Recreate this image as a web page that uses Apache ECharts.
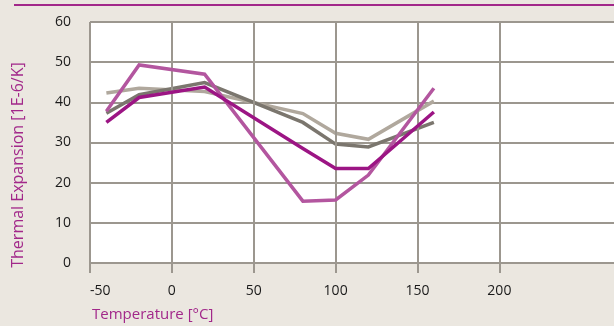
<!DOCTYPE html>
<html>
<head>
<meta charset="utf-8">
<script src="https://cdn.jsdelivr.net/npm/echarts@6/dist/echarts.min.js"></script>
<style>
  html, body { margin: 0; padding: 0; background: #ebe7e0; }
  #chart { width: 614px; height: 326px; }
</style>
</head>
<body>
<div id="chart"></div>
<script>
// Temperature sample points (°C)
const temperatures = [-40, -20, 20, 80, 100, 120, 160];

// Thermal expansion per material (1E-6/K)
const seriesLightMagenta = [37.8, 49.3, 47.0, 15.4, 15.7, 21.9, 43.5];
const seriesDarkMagenta  = [35.0, 41.2, 43.8, 28.5, 23.5, 23.5, 37.6];
const seriesDarkGray     = [37.3, 41.9, 44.9, 35.0, 29.6, 28.9, 35.0];
const seriesLightGray    = [42.3, 43.5, 42.7, 37.2, 32.3, 30.8, 40.3];

// Axis ticks
const xTicks = [-50, 0, 50, 100, 150, 200];
const yTicks = [0, 10, 20, 30, 40, 50, 60];

const gridGray = '#9c978f';
const purple = '#a2288a';
const font = '"Open Sans", "Noto Sans", sans-serif';

const pairs = (vals) => temperatures.map((t, i) => [t, vals[i]]);

const lineSeries = (name, vals, color, width, z) => ({
  name,
  type: 'line',
  data: pairs(vals),
  symbol: 'none',
  z,
  lineStyle: { color, width, join: 'miter' },
  silent: true
});

const chart = echarts.init(document.getElementById('chart'), null, { renderer: 'canvas' });

const series = [
  lineSeries('Light gray', seriesLightGray, '#b0a89d', 3.5, 3),
  lineSeries('Dark gray', seriesDarkGray, '#7b766e', 3.5, 4),
  lineSeries('Light magenta', seriesLightMagenta, '#b3569f', 3.5, 5),
  lineSeries('Dark magenta', seriesDarkMagenta, '#9c1584', 3.5, 6)
];

// vertical grid lines at the labelled temperatures
series.unshift({
  type: 'line',
  data: [],
  silent: true,
  z: 1,
  markLine: {
    silent: true,
    symbol: ['none', 'none'],
    label: { show: false },
    lineStyle: { color: gridGray, width: 2, type: 'solid' },
    data: xTicks.map(v => ({ xAxis: v }))
  }
});

chart.setOption({
  animation: false,
  backgroundColor: '#ebe7e0',
  grid: {
    left: 90,
    right: 0,
    top: 22,
    bottom: 63,
    show: true,
    backgroundColor: '#ffffff',
    borderWidth: 0
  },
  xAxis: {
    type: 'value',
    min: -50,
    max: 270,
    interval: 50,
    splitLine: { show: false },
    axisLine: { show: false },
    axisTick: {
      show: true,
      customValues: xTicks,
      length: 10,
      lineStyle: { color: gridGray, width: 2 }
    },
    axisLabel: {
      customValues: xTicks,
      margin: 21,
      alignMinLabel: 'left',
      color: '#1a1a1a',
      fontSize: 14,
      fontFamily: font
    }
  },
  yAxis: {
    type: 'value',
    min: yTicks[0],
    max: yTicks[yTicks.length - 1],
    interval: 10,
    splitLine: { show: true, lineStyle: { color: gridGray, width: 2 } },
    axisLine: { show: false },
    axisTick: { show: true, length: 11, lineStyle: { color: gridGray, width: 2 } },
    axisLabel: {
      margin: 19,
      color: '#1a1a1a',
      fontSize: 14,
      fontFamily: font
    }
  },
  graphic: [
    {
      type: 'line',
      shape: { x1: 14, y1: 5, x2: 614, y2: 5 },
      style: { stroke: purple, lineWidth: 2 }
    },
    {
      type: 'text',
      x: 18,
      y: 165,
      rotation: Math.PI / 2,
      style: {
        text: 'Thermal Expansion [1E-6/K]',
        fill: purple,
        font: '16px ' + font,
        textAlign: 'center',
        textVerticalAlign: 'middle'
      }
    },
    {
      type: 'text',
      x: 92,
      y: 315,
      style: {
        text: 'Temperature [°C]',
        fill: purple,
        font: '15px ' + font,
        textAlign: 'left',
        textVerticalAlign: 'middle'
      }
    }
  ],
  series
});
</script>
</body>
</html>
